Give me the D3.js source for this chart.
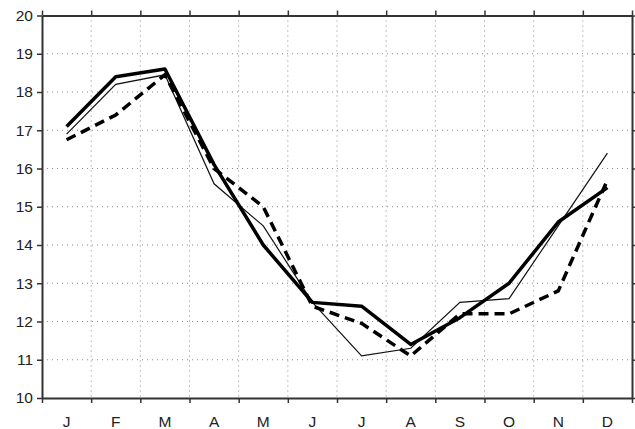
<!DOCTYPE html>
<html>
<head>
<meta charset="utf-8">
<script src="https://cdn.jsdelivr.net/npm/d3@7"></script>
<style>
  body { margin: 0; background: #fff; }
  svg text { font-family: "Liberation Sans", Arial, sans-serif; }
</style>
</head>
<body>
<svg id="chart" width="635" height="429"></svg>
<script>
var months = ["J", "F", "M", "A", "M", "J", "J", "A", "S", "O", "N", "D"];
var yTicks = [10, 11, 12, 13, 14, 15, 16, 17, 18, 19, 20];

// three series
var thick = [17.1, 18.4, 18.6, 16.1, 14.0, 12.5, 12.4, 11.4, 12.1, 13.0, 14.6, 15.5];
var thin = [16.9, 18.2, 18.45, 15.6, 14.5, 12.5, 11.1, 11.3, 12.5, 12.6, 14.5, 16.4];
var dashed = [16.75, 17.4, 18.45, 16.0, 15.0, 12.4, 11.95, 11.1, 12.2, 12.2, 12.8, 15.7];

var svg = d3.select("#chart");
var m = {left: 42, right: 3, top: 15.5, bottom: 31};
var w = 635 - m.left - m.right;
var h = 429 - m.top - m.bottom;

var g = svg.append("g").attr("transform", "translate(" + m.left + "," + m.top + ")");

// band scale: ticks/grid on month boundaries, points at centres
var x = d3.scaleBand().domain(d3.range(12)).range([0, w]).padding(0);
var y = d3.scaleLinear().domain([10, 20]).range([h, 0]);

var bounds = d3.range(1, 12).map(function(i) { return i * x.bandwidth(); });

// grid
g.selectAll(".vgrid").data(bounds).enter().append("line")
  .attr("x1", function(d) { return d; }).attr("x2", function(d) { return d; })
  .attr("y1", 0).attr("y2", h)
  .attr("stroke", "#888").attr("stroke-width", 1).attr("stroke-dasharray", "1,4");
g.selectAll(".hgrid").data(yTicks.slice(1, -1)).enter().append("line")
  .attr("x1", 0).attr("x2", w)
  .attr("y1", function(d) { return y(d); }).attr("y2", function(d) { return y(d); })
  .attr("stroke", "#888").attr("stroke-width", 1).attr("stroke-dasharray", "1,4");

// lines
var line = d3.line()
  .x(function(d, i) { return x(i) + x.bandwidth() / 2; })
  .y(function(d) { return y(d); });

g.append("path").datum(thin).attr("d", line)
  .attr("fill", "none").attr("stroke", "#111").attr("stroke-width", 1.2);
g.append("path").datum(dashed).attr("d", line)
  .attr("fill", "none").attr("stroke", "#000").attr("stroke-width", 3.5)
  .attr("stroke-dasharray", "10,6");
g.append("path").datum(thick).attr("d", line)
  .attr("fill", "none").attr("stroke", "#000").attr("stroke-width", 3.5)
  .attr("stroke-linejoin", "round");

// axes
var xs = d3.scaleLinear().domain([0, 12]).range([0, w]);
var tickVals = d3.range(0, 13);

function styleAxis(sel) {
  sel.select(".domain").attr("stroke", "#333").attr("stroke-width", 2);
  sel.selectAll(".tick line").attr("stroke", "#333").attr("stroke-width", 1.5);
}

g.append("g").attr("transform", "translate(0," + h + ")")
  .call(d3.axisBottom(xs).tickValues(tickVals).tickSize(5).tickSizeOuter(0).tickFormat(""))
  .call(styleAxis);
g.append("g")
  .call(d3.axisTop(xs).tickValues(tickVals).tickSize(5).tickSizeOuter(0).tickFormat(""))
  .call(styleAxis);
g.append("g")
  .call(d3.axisLeft(y).tickValues(yTicks).tickSize(5).tickSizeOuter(0).tickPadding(4))
  .call(styleAxis)
  .selectAll("text").attr("font-size", 15.5).attr("fill", "#222");
g.append("g").attr("transform", "translate(" + w + ",0)")
  .call(d3.axisRight(y).tickValues(yTicks).tickSize(5).tickSizeOuter(0).tickFormat(""))
  .call(styleAxis);

// month labels
g.selectAll(".mlab").data(months).enter().append("text")
  .attr("x", function(d, i) { return x(i) + x.bandwidth() / 2; })
  .attr("y", h + 29)
  .attr("text-anchor", "middle")
  .attr("font-size", 15.5).attr("fill", "#222")
  .text(function(d) { return d; });
</script>
</body>
</html>
